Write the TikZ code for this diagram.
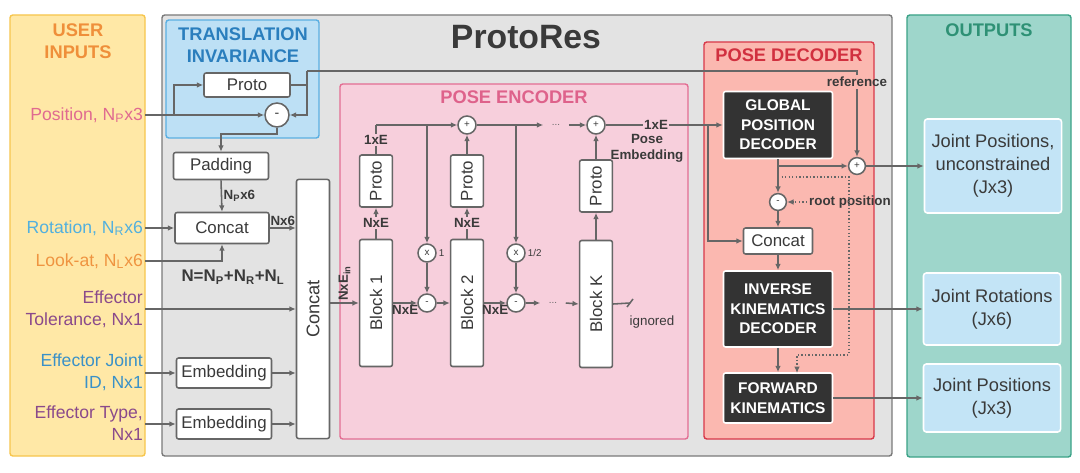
\documentclass[tikz,border=0pt]{standalone}
\usepackage{fontspec}
\setmainfont{Liberation Sans}
\usetikzlibrary{arrows.meta}
\definecolor{linegray}{HTML}{666666}
\definecolor{txtgray}{HTML}{3A3A3A}
\definecolor{userfill}{HTML}{FFE8A6}
\definecolor{userdraw}{HTML}{F7C64D}
\definecolor{userttl}{HTML}{EF8F3A}
\definecolor{mainfill}{HTML}{E3E3E3}
\definecolor{maindraw}{HTML}{7A7A7A}
\definecolor{tifill}{HTML}{BDE0F5}
\definecolor{tidraw}{HTML}{5AAFE2}
\definecolor{tittl}{HTML}{2A7EBD}
\definecolor{encfill}{HTML}{F7CFDC}
\definecolor{encdraw}{HTML}{E36E93}
\definecolor{encttl}{HTML}{DE628B}
\definecolor{decfill}{HTML}{FBB8B0}
\definecolor{decdraw}{HTML}{D83849}
\definecolor{decttl}{HTML}{D1303F}
\definecolor{outfill}{HTML}{9ED6CB}
\definecolor{outdraw}{HTML}{3BA287}
\definecolor{outttl}{HTML}{2E9175}
\definecolor{resfill}{HTML}{C3E4F6}
\definecolor{darkfill}{HTML}{333333}
\definecolor{pinktxt}{HTML}{E06A90}
\definecolor{bluetxt}{HTML}{52B0DE}
\definecolor{orangetxt}{HTML}{EF9440}
\definecolor{purpletxt}{HTML}{8A4A8B}
\definecolor{jointtxt}{HTML}{3A91C8}

\begin{document}
\begin{tikzpicture}[x=0.025cm,y=-0.025cm,line width=1.1pt,color=linegray,
     >={Latex[length=4.5pt,width=4pt]},
     panel/.style={rounded corners=2pt,line width=1pt},
     ttl/.style={font=\fontsize{13}{15.6}\selectfont\bfseries,align=center},
     inp/.style={anchor=east,align=right,inner sep=1pt,font=\fontsize{12.5}{15.6}\selectfont},
     box/.style={draw=linegray,fill=white,rounded corners=1.5pt,text=txtgray,inner sep=0pt,font=\fontsize{12}{14}\selectfont},
     dark/.style={draw=white,fill=darkfill,rounded corners=1.5pt,text=white,inner sep=0pt,align=center,
          minimum width=2.725cm,font=\fontsize{11}{13.9}\selectfont\bfseries},
     res/.style={draw=white,fill=resfill,rounded corners=2pt,text=txtgray,inner sep=0pt,align=center,
          minimum width=3.425cm,font=\fontsize{13}{16.4}\selectfont},
     circ/.style={circle,draw=linegray,fill=white,inner sep=0pt,minimum size=0.45cm,text=txtgray,font=\fontsize{7}{7}\selectfont},
     lbl/.style={text=txtgray,inner sep=1pt,font=\fontsize{9.5}{12}\selectfont\bfseries},
     dots/.style={text=linegray,inner sep=0pt,minimum width=0.6cm,font=\fontsize{7}{7}\selectfont},
     dotline/.style={dash pattern=on 1pt off 1.5pt}]
     \useasboundingbox[fill=white] (0,0) rectangle (1080,473);
     \draw[panel,fill=userfill,draw=userdraw] (10,15) rectangle (145,456);
     \draw[panel,fill=mainfill,draw=maindraw] (162,15) rectangle (892,456);
     \draw[panel,fill=tifill,draw=tidraw] (166,20) rectangle (319,138);
     \draw[panel,fill=encfill,draw=encdraw] (340,84) rectangle (688,439);
     \draw[panel,fill=decfill,draw=decdraw] (704,42) rectangle (874,439);
     \draw[panel,fill=outfill,draw=outdraw] (907,15) rectangle (1071,457);

     \node[ttl,text=userttl] (t-user) at (78,41) {USER\\INPUTS};
     \node[ttl,text=tittl] (t-ti) at (243,45) {TRANSLATION\\INVARIANCE};
     \node[text=txtgray,font=\fontsize{24}{24}\selectfont\bfseries] (t-main) at (526,37) {ProtoRes};
     \node[ttl,text=encttl] (t-enc) at (514,97) {POSE ENCODER};
     \node[ttl,text=decttl] (t-dec) at (789,55) {POSE DECODER};
     \node[ttl,text=outttl] (t-out) at (989,30) {OUTPUTS};

     \node[inp,text=pinktxt] (inpos) at (145,115) {Position, N\textsubscript{P}x3};
     \node[inp,text=bluetxt] (inrot) at (145,228) {Rotation, N\textsubscript{R}x6};
     \node[inp,text=orangetxt] (inlook) at (145,261) {Look-at, N\textsubscript{L}x6};
     \node[inp,text=purpletxt] (intol) at (145,309) {Effector\\Tolerance, Nx1};
     \node[inp,text=jointtxt] (injoint) at (145,372) {Effector Joint\\ID, Nx1};
     \node[inp,text=purpletxt] (intype) at (145,423) {Effector Type,\\Nx1};

     \node[box,minimum width=2.15cm,minimum height=0.6cm] (proto0) at (247,85) {Proto};
     \node[circ,minimum size=0.6cm,font=\fontsize{10}{10}\selectfont] (sub0) at (277,115) {-};
     \node[box,minimum width=2.375cm,minimum height=0.675cm] (pad) at (221,166) {Padding};
     \node[box,minimum width=2.35cm,minimum height=0.775cm] (cat0) at (222,228) {Concat};
     \node[box,minimum width=0.825cm,minimum height=6.475cm,font=\fontsize{13}{14}\selectfont] (bigcat) at (313,309) {\rotatebox{90}{Concat}};
     \node[box,minimum width=2.375cm,minimum height=0.75cm] (emb1) at (224,373) {Embedding};
     \node[box,minimum width=2.375cm,minimum height=0.75cm] (emb2) at (224,424) {Embedding};
     \node[font=\fontsize{12}{12}\selectfont\bfseries,text=txtgray] (nsum) at (233,277) {N=N\textsubscript{P}+N\textsubscript{R}+N\textsubscript{L}};

     \coordinate (brpos) at (174,115);
     \coordinate (refup) at (307,71);
     \coordinate (subdn) at (277,134);
     \draw[->] (inpos.east) -- (sub0.west);
     \draw[->] (brpos) |- (proto0.west);
     \draw (proto0.east) -- (proto0.east -| refup);
     \draw[->] (refup) |- (sub0.east);
     \draw[->] (sub0.south) -- (subdn) -| (pad.north);
     \draw[->] (pad.south) -- node[lbl,right] {N\textsubscript{P}x6} (cat0.north);
     \draw[->] (inrot.east) -- (inrot.east -| cat0.west);
     \draw[->] (inlook.east) -| (cat0.south);
     \draw[->] (cat0.east) -- node[lbl,above] {Nx6} (cat0.east -| bigcat.west);
     \draw[->] (intol.east) -- (intol.east -| bigcat.west);
     \draw[->] (injoint.east |- emb1) -- (emb1.west);
     \draw[->] (emb1.east) -- (emb1.east -| bigcat.west);
     \draw[->] (intype.east |- emb2) -- (emb2.west);
     \draw[->] (emb2.east) -- (emb2.east -| bigcat.west);

     \node[box,minimum width=0.82cm,minimum height=3.175cm] (blk1) at (376,303) {\rotatebox{90}{Block 1}};
     \node[box,minimum width=0.82cm,minimum height=1.3cm] (pro1) at (376,181) {\rotatebox{90}{Proto}};
     \node[box,minimum width=0.82cm,minimum height=3.175cm] (blk2) at (467,303) {\rotatebox{90}{Block 2}};
     \node[box,minimum width=0.82cm,minimum height=1.3cm] (pro2) at (467,181) {\rotatebox{90}{Proto}};
     \node[box,minimum width=0.82cm,minimum height=3.175cm] (blkK) at (596,304) {\rotatebox{90}{Block K}};
     \node[box,minimum width=0.82cm,minimum height=1.3cm] (proK) at (596,186) {\rotatebox{90}{Proto}};
     \node[circ] (plus2) at (467,125) {+};
     \node[circ] (plusK) at (596,125) {+};
     \node[circ] (mul1) at (427,253) {x};
     \node[circ] (sub1) at (427,303) {-};
     \node[circ] (mul2) at (516,253) {x};
     \node[circ] (sub2) at (516,303) {-};
     \node[text=txtgray,font=\fontsize{7}{7}\selectfont,anchor=west,inner sep=1pt] (w1) at (mul1.east) {1};
     \node[text=txtgray,font=\fontsize{7}{7}\selectfont,anchor=west,inner sep=1pt] (w2) at (mul2.east) {1/2};
     \node[dots] (dotsA) at (556,125) {...};
     \node[dots] (dotsB) at (553,303) {...};
     \node[text=txtgray,font=\fontsize{9.5}{11}\selectfont] (ignlbl) at (652,322) {ignored};
     \node[lbl,align=center,inner sep=0pt,font=\fontsize{9.5}{11.5}\selectfont\bfseries] (poseemb) at (647,148) {Pose\\Embedding};

     \coordinate (top1) at (376,125);
     \coordinate (br1) at (427,125);
     \coordinate (br2) at (516,125);
     \coordinate (ignr) at (630,303);
     \draw[->] (bigcat.east |- blk1) -- node[lbl,rotate=90,anchor=west] {NxE\textsubscript{in}} (blk1.west);
     \draw[->] (blk1.north) -- node[lbl,fill=encfill] {NxE} (pro1.south);
     \draw (pro1.north) -- node[lbl,fill=encfill] {1xE} (top1);
     \draw[->] (top1) -- (plus2.west);
     \draw[->] (br1) -- (mul1.north);
     \draw[->] (mul1.south) -- (sub1.north);
     \draw[->] (blk1.east) -- node[lbl,below] {NxE} (sub1.west);
     \draw[->] (sub1.east) -- (blk2.west);
     \draw[->] (blk2.north) -- node[lbl,fill=encfill] {NxE} (pro2.south);
     \draw[->] (pro2.north) -- (plus2.south);
     \draw[->] (br2) -- (mul2.north);
     \draw[->] (mul2.south) -- (sub2.north);
     \draw[->] (blk2.east) -- node[lbl,below] {NxE} (sub2.west);
     \draw[->] (plus2.east) -- (dotsA.west);
     \draw[->] (dotsA.east) -- (plusK.west);
     \draw[->] (sub2.east) -- (dotsB.west);
     \draw[->] (dotsB.east) -- (blkK.west);
     \draw[->] (blkK.north) -- (proK.south);
     \draw[->] (proK.north) -- (plusK.south);
     \draw (blkK.east) -- (ignr);
     \draw ([shift={(-3,4)}]ignr) -- ([shift={(3,-4)}]ignr);

     \node[dark,minimum height=1.675cm] (gpd) at (778,125) {GLOBAL\\POSITION\\DECODER};
     \node[box,minimum width=1.725cm,minimum height=0.65cm] (cat1) at (778,241) {Concat};
     \node[dark,minimum height=1.9cm] (ik) at (778,309) {INVERSE\\KINEMATICS\\DECODER};
     \node[dark,minimum height=1.25cm] (fk) at (778,398) {FORWARD\\KINEMATICS};
     \node[circ,minimum size=0.42cm] (gplus) at (857,166) {+};
     \node[circ,minimum size=0.42cm] (gsub) at (778,202) {-};
     \node[lbl] (reflbl) at (857,82) {reference};
     \node[lbl] (rootlbl) at (850,202) {root position};

     \node[res,minimum height=2.35cm] (out1) at (993,166) {Joint Positions,\\unconstrained\\(Jx3)};
     \node[res,minimum height=1.8cm] (out2) at (992,309) {Joint Rotations\\(Jx6)};
     \node[res,minimum height=1.7cm] (out3) at (992,398) {Joint Positions\\(Jx3)};

     \coordinate (br3) at (708,125);
     \coordinate (br4) at (778,166);
     \coordinate (br5) at (778,177);
     \coordinate (dotR) at (849,355);
     \coordinate (fkin) at (797,373);
     \draw[->] (plusK.east) -- node[lbl,fill=encfill,inner sep=0.5pt,pos=0.43] {1xE} (gpd.west);
     \draw[->] (br3) |- (cat1.west);
     \draw (refup) -| (reflbl.north);
     \draw[->] (reflbl.south) -- (gplus.north);
     \draw[->] (gpd.south) -- (gsub.north);
     \draw[->] (br4) -- (gplus.west);
     \draw[->] (gplus.east) -- (gplus.east -| out1.west);
     \draw[dotline,->] (br5) -| (dotR) -| (fkin);
     \draw[dotline,->] (rootlbl.west) -- (gsub.east);
     \draw[->] (gsub.south) -- (cat1.north);
     \draw[->] (cat1.south) -- (ik.north);
     \draw[->] (ik.east) -- (ik.east -| out2.west);
     \draw[->] (ik.south) -- (fk.north);
     \draw[->] (fk.east) -- (fk.east -| out3.west);
\end{tikzpicture}
\end{document}
